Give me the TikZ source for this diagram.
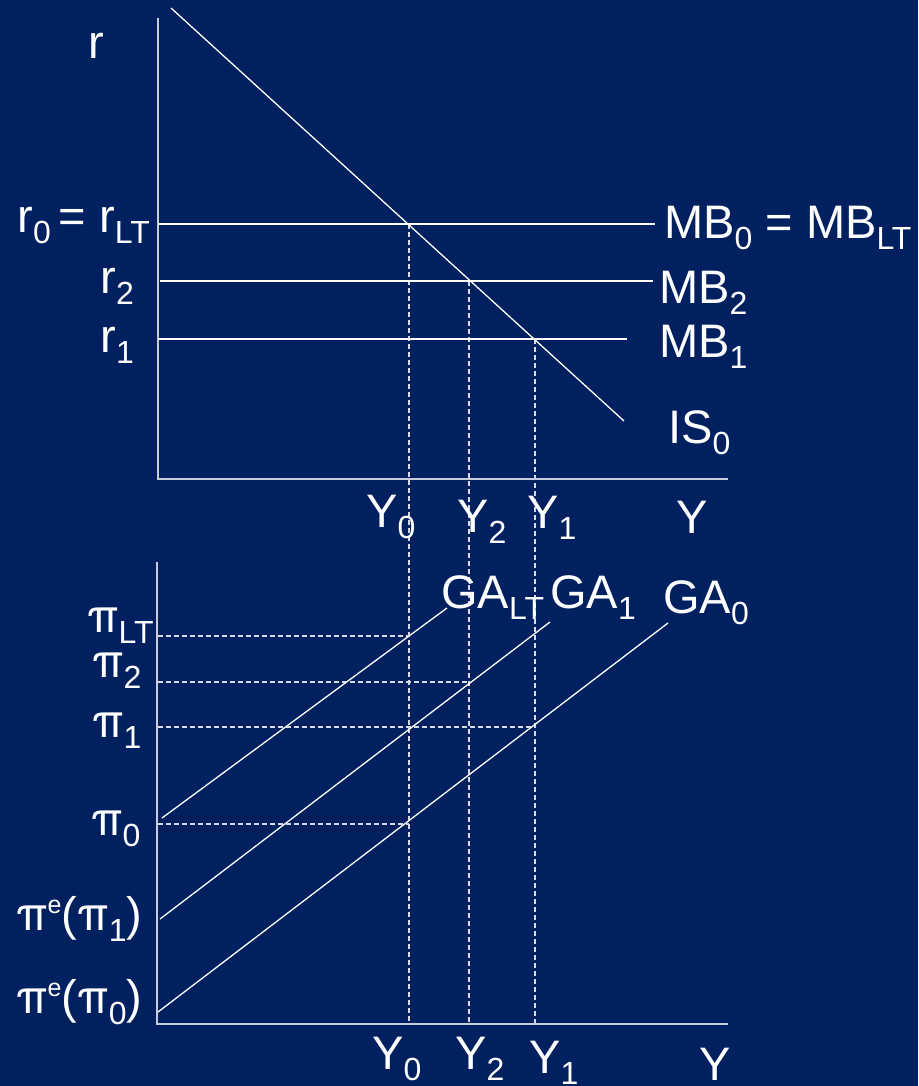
\documentclass[tikz,border=0pt]{standalone}
\usepackage{fontspec}
\setmainfont{Liberation Sans}
\newfontfamily\pifont{TeX Gyre Heros}
\definecolor{bgblue}{RGB}{0,32,96}
\definecolor{axcol}{RGB}{200,204,218}
\definecolor{dashcol}{RGB}{215,218,228}
\newcommand{\lo}[1]{\raisebox{-11pt}{\fontsize{32}{32}\selectfont #1}}
\newcommand{\hie}[1]{\raisebox{17pt}{\fontsize{25}{25}\selectfont #1}}
\newcommand{\pig}{{\pifont π}}
\newcommand{\pis}{{\pifont\fontsize{32}{32}\selectfont π}}
\tikzset{
  lbl/.style={text=white, inner sep=0pt, font=\fontsize{47}{50}\selectfont},
  axisline/.style={draw=axcol, line width=1.8pt},
  curve/.style={draw=white, line width=1.3pt},
  guide/.style={draw=dashcol, line width=1.2pt, dash pattern=on 5pt off 3pt},
}
\begin{document}
\begin{tikzpicture}[x=1pt, y=-1pt]
\fill[bgblue] (0,0) rectangle (918,1086);
\useasboundingbox (0,0) rectangle (918,1086);

% ---------- top panel coordinates ----------
\coordinate (tTop) at (158,18);
\coordinate (tO) at (158,479);
\coordinate (tRight) at (728,479);
\coordinate (isA) at (171,8);
\coordinate (isB) at (624,421);
\coordinate (mb0A) at (158,224);
\coordinate (mb0B) at (655,224);
\coordinate (mb2A) at (160,281);
\coordinate (mb2B) at (653,281);
\coordinate (mb1A) at (158,339);
\coordinate (mb1B) at (627,339);
\coordinate (e0) at (409,224);
\coordinate (e2) at (469,281);
\coordinate (e1) at (535,339);
\coordinate (b0) at (409,1023);
\coordinate (b2) at (469,1023);
\coordinate (b1) at (535,1023);

% ---------- bottom panel coordinates ----------
\coordinate (bTop) at (157,562);
\coordinate (bO) at (157,1024);
\coordinate (bRight) at (728,1024);
\coordinate (galtA) at (162,818);
\coordinate (galtB) at (447,608);
\coordinate (ga1A) at (160,919);
\coordinate (ga1B) at (550,622);
\coordinate (ga0A) at (158,1012);
\coordinate (ga0B) at (668,623);
\coordinate (pLTa) at (158,636);
\coordinate (pLTb) at (409,636);
\coordinate (p2a) at (158,682);
\coordinate (p2b) at (469,682);
\coordinate (p1a) at (158,727);
\coordinate (p1b) at (535,727);
\coordinate (p0a) at (158,824);
\coordinate (p0b) at (409,824);

% ---------- guides (dashed) ----------
\draw[guide] (e0) -- (b0);
\draw[guide] (e2) -- (b2);
\draw[guide] (e1) -- (b1);
\draw[guide] (pLTa) -- (pLTb);
\draw[guide] (p2a) -- (p2b);
\draw[guide] (p1a) -- (p1b);
\draw[guide] (p0a) -- (p0b);

% ---------- axes ----------
\draw[axisline] (tTop) -- (tO) -- (tRight);
\draw[axisline] (bTop) -- (bO) -- (bRight);

% ---------- curves ----------
\draw[curve] (isA) -- (isB);
\draw[curve] (mb0A) -- (mb0B);
\draw[curve] (mb2A) -- (mb2B);
\draw[curve] (mb1A) -- (mb1B);
\draw[curve] (galtA) -- (galtB);
\draw[curve] (ga1A) -- (ga1B);
\draw[curve] (ga0A) -- (ga0B);

% ---------- top labels ----------
\node[lbl, anchor=base west] (rlab) at (88,59) {r};
\node[lbl, anchor=base east] (r0lab) at (150,232) {r\lo{0}\,= r\lo{LT}};
\node[lbl, anchor=base east] (r2lab) at (134,293) {r\lo{2}};
\node[lbl, anchor=base east] (r1lab) at (134,352) {r\lo{1}};
\node[lbl, anchor=base west] (mb0lab) at (664,238) {MB\lo{0} = MB\lo{LT}};
\node[lbl, anchor=base west] (mb2lab) at (659,303) {MB\lo{2}};
\node[lbl, anchor=base west] (mb1lab) at (659,357) {MB\lo{1}};
\node[lbl, anchor=base west] (islab) at (668,443) {IS\lo{0}};
\node[lbl, anchor=base west] (ty0) at (366,527) {Y\lo{0}};
\node[lbl, anchor=base west] (ty2) at (457,532) {Y\lo{2}};
\node[lbl, anchor=base west] (ty1) at (527,528) {Y\lo{1}};
\node[lbl, anchor=base west] (tyy) at (676,533) {Y};

% ---------- bottom labels ----------
\node[lbl, anchor=base west] (galtlab) at (441,608) {GA\lo{LT}};
\node[lbl, anchor=base west] (ga1lab) at (550,608) {GA\lo{1}};
\node[lbl, anchor=base west] (ga0lab) at (663,613) {GA\lo{0}};
\node[lbl, anchor=base west] (pltlab) at (87,632) {\pig\lo{LT}};
\node[lbl, anchor=base west] (p2lab) at (92,677) {\pig\lo{2}};
\node[lbl, anchor=base west] (p1lab) at (92,737) {\pig\lo{1}};
\node[lbl, anchor=base west] (p0lab) at (91,835) {\pig\lo{0}};
\node[lbl, anchor=base west] (pe1lab) at (16,930) {\pig\hie{e}(\pig\lo{1})};
\node[lbl, anchor=base west] (pe0lab) at (16,1013) {\pig\hie{e}(\pig\lo{0})};
\node[lbl, anchor=base west] (by0) at (372,1069) {Y\lo{0}};
\node[lbl, anchor=base west] (by2) at (455,1069) {Y\lo{2}};
\node[lbl, anchor=base west] (by1) at (529,1073) {Y\lo{1}};
\node[lbl, anchor=base west] (byy) at (699,1080) {Y};
\end{tikzpicture}
\end{document}
